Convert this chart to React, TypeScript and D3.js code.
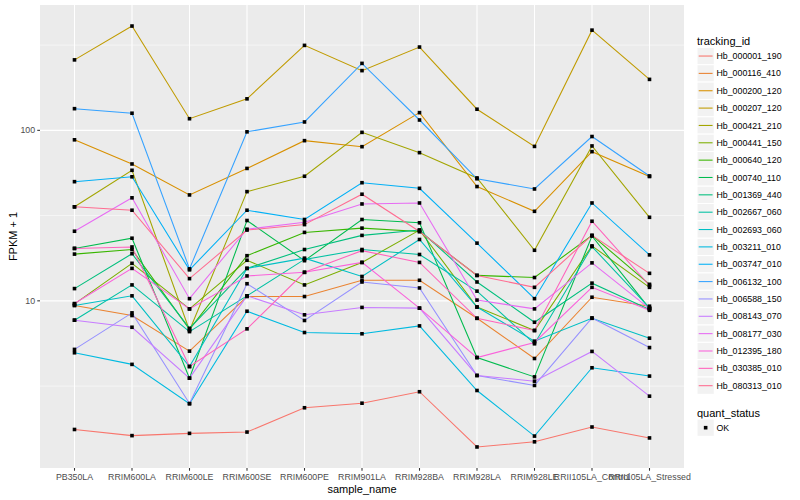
import * as d3 from "d3";

const samples = [
  "PB350LA",
  "RRIM600LA",
  "RRIM600LE",
  "RRIM600SE",
  "RRIM600PE",
  "RRIM901LA",
  "RRIM928BA",
  "RRIM928LA",
  "RRIM928LE",
  "RRII105LA_Control",
  "RRII105LA_Stressed",
];

const trackingIds = [
  "Hb_000001_190",
  "Hb_000116_410",
  "Hb_000200_120",
  "Hb_000207_120",
  "Hb_000421_210",
  "Hb_000441_150",
  "Hb_000640_120",
  "Hb_000740_110",
  "Hb_001369_440",
  "Hb_002667_060",
  "Hb_002693_060",
  "Hb_003211_010",
  "Hb_003747_010",
  "Hb_006132_100",
  "Hb_006588_150",
  "Hb_008143_070",
  "Hb_008177_030",
  "Hb_012395_180",
  "Hb_030385_010",
  "Hb_080313_010",
];

// FPKM + 1 per gene, in sample order
const hb000001 = [1.76, 1.62, 1.67, 1.7, 2.36, 2.51, 2.93, 1.39, 1.49, 1.82, 1.57];
const hb000116 = [9.4, 8.2, 5.07, 10.6, 10.6, 13.2, 13.2, 7.9, 4.59, 10.5, 9.3];
const hb000200 = [88, 63.5, 41.8, 59.8, 87, 80.2, 127, 46.8, 33.5, 75, 53.6];
const hb000207 = [259, 409, 117, 153, 315, 224, 308, 133, 80.5, 387, 199];
const hb000421 = [35.6, 58.3, 6.7, 43.7, 53.8, 97.3, 74, 52.6, 19.8, 81, 30.9];
const hb000441 = [9.6, 16.6, 8.97, 17.3, 12.4, 16.8, 26, 9.2, 6.7, 21, 12.0];
const hb000640 = [18.8, 20.0, 6.8, 18.4, 25.2, 26.7, 25.5, 14.1, 13.7, 24.2, 12.5];
const hb000740 = [20.3, 23.3, 3.52, 29.6, 17.2, 30, 28.7, 4.65, 3.58, 24, 9.0];
const hb001369 = [11.8, 18.9, 6.9, 15.5, 20, 24.2, 26, 12.9, 7.49, 12.7, 8.9];
const hb002667 = [7.7, 12.4, 6.6, 10.7, 17.5, 20, 18.7, 11.4, 5.6, 20.8, 9.1];
const hb002693 = [9.4, 10.7, 4.12, 15.5, 17.8, 13.9, 22.9, 9.2, 5.8, 7.9, 6.04];
const hb003211 = [4.96, 4.24, 2.49, 8.69, 6.52, 6.41, 7.13, 2.98, 1.61, 4.05, 3.62];
const hb003747 = [50, 53.4, 15.2, 34, 30, 49.3, 45.7, 21.8, 10.3, 37.5, 18.6];
const hb006132 = [134, 126, 15.4, 98, 112, 247, 115, 52, 45.3, 92, 54];
const hb006588 = [5.19, 8.5, 2.5, 12.6, 7.67, 12.9, 11.9, 3.65, 3.19, 7.94, 5.32];
const hb008143 = [7.7, 7.0, 3.52, 10.7, 8.28, 9.15, 9.06, 3.65, 3.38, 5.05, 2.76];
const hb008177 = [25.6, 40.2, 10.3, 26.3, 28.9, 37, 37.5, 10.1, 8.97, 16.7, 9.0];
const hb012395 = [9.64, 15.5, 8.97, 14, 14.7, 16.8, 9.06, 4.65, 5.7, 12.0, 8.8];
const hb030385 = [20.3, 20.7, 4.12, 6.85, 14.7, 19.7, 16.8, 7.9, 6.7, 29.3, 12.3];
const hb080313 = [35.6, 34, 13.5, 26, 28, 42.2, 25.5, 14.1, 12.0, 24.2, 14.5];

const seriesValues = [
  hb000001, hb000116, hb000200, hb000207, hb000421, hb000441, hb000640,
  hb000740, hb001369, hb002667, hb002693, hb003211, hb003747, hb006132,
  hb006588, hb008143, hb008177, hb012395, hb030385, hb080313,
];

const yTicks = [10, 100];

// ggplot2 default hue palette for 20 levels
const colors = [
  "#F8766D", "#EA8331", "#D89000", "#C09B00", "#A3A500", "#7CAE00", "#39B600",
  "#00BB4E", "#00BF7D", "#00C1A3", "#00BFC4", "#00BAE0", "#00B0F6", "#35A2FF",
  "#9590FF", "#C77CFF", "#E76BF3", "#FA62DB", "#FF62BC", "#FF6C91",
];

const font = "'Liberation Sans', Arial, Helvetica, sans-serif";

export default function App() {
  const width = 800;
  const height = 500;
  const panel = { left: 40, right: 684, top: 5, bottom: 468 };

  const x = d3
    .scalePoint<string>()
    .domain(samples)
    .range([panel.left, panel.right])
    .padding(0.6);

  const allValues = seriesValues.flat();
  const [lo, hi] = d3.extent(allValues.map((v) => Math.log10(v))) as [number, number];
  const pad = (hi - lo) * 0.05;
  const y = d3
    .scaleLog()
    .domain([Math.pow(10, lo - pad), Math.pow(10, hi + pad)])
    .range([panel.bottom, panel.top]);

  const minorTicks = [Math.sqrt(10), Math.sqrt(1000), Math.sqrt(100000)];

  const line = d3
    .line<number>()
    .x((_, i) => x(samples[i]) ?? 0)
    .y((v) => y(v));

  const keyTop = 47.4;
  const keyStep = 17.35;
  const keySize = 17.28;
  const legendX = 697;
  const ptSize = 3.6;

  return (
    <svg
      width={width}
      height={height}
      style={{ position: "fixed", left: 0, top: 0, background: "#fff" }}
      fontFamily={font}
    >
      <rect
        x={panel.left}
        y={panel.top}
        width={panel.right - panel.left}
        height={panel.bottom - panel.top}
        fill="#EBEBEB"
      />
      {minorTicks.map((t) =>
        y(t) > panel.top && y(t) < panel.bottom ? (
          <line
            key={`minor-${t}`}
            x1={panel.left}
            x2={panel.right}
            y1={y(t)}
            y2={y(t)}
            stroke="#fff"
            strokeWidth={0.53}
          />
        ) : null,
      )}
      {yTicks.map((t) => (
        <line
          key={`major-${t}`}
          x1={panel.left}
          x2={panel.right}
          y1={y(t)}
          y2={y(t)}
          stroke="#fff"
          strokeWidth={1.07}
        />
      ))}
      {samples.map((s) => (
        <line
          key={`vgrid-${s}`}
          x1={x(s)}
          x2={x(s)}
          y1={panel.top}
          y2={panel.bottom}
          stroke="#fff"
          strokeWidth={1.07}
        />
      ))}

      {seriesValues.map((vals, i) => (
        <path
          key={trackingIds[i]}
          d={line(vals) ?? ""}
          fill="none"
          stroke={colors[i]}
          strokeWidth={1.07}
        />
      ))}
      {seriesValues.map((vals, i) =>
        vals.map((v, j) => (
          <rect
            key={`${trackingIds[i]}-${j}`}
            x={(x(samples[j]) ?? 0) - ptSize / 2}
            y={y(v) - ptSize / 2}
            width={ptSize}
            height={ptSize}
            fill="#000"
          />
        )),
      )}

      {/* y axis */}
      {yTicks.map((t) => (
        <g key={`ytick-${t}`}>
          <line
            x1={panel.left - 2.74}
            x2={panel.left}
            y1={y(t)}
            y2={y(t)}
            stroke="#333"
            strokeWidth={1.07}
          />
          <text
            x={panel.left - 4.9}
            y={y(t) + 3.1}
            fontSize={8.8}
            fill="#4D4D4D"
            textAnchor="end"
          >
            {t}
          </text>
        </g>
      ))}
      {/* x axis */}
      {samples.map((s) => (
        <g key={`xtick-${s}`}>
          <line
            x1={x(s)}
            x2={x(s)}
            y1={panel.bottom}
            y2={panel.bottom + 2.74}
            stroke="#333"
            strokeWidth={1.07}
          />
          <text
            x={x(s)}
            y={panel.bottom + 11.8}
            fontSize={8.8}
            fill="#4D4D4D"
            textAnchor="middle"
          >
            {s}
          </text>
        </g>
      ))}
      <text
        x={(panel.left + panel.right) / 2}
        y={493}
        fontSize={11}
        textAnchor="middle"
        fill="#000"
      >
        sample_name
      </text>
      <text
        transform={`translate(16.5,${(panel.top + panel.bottom) / 2}) rotate(-90)`}
        fontSize={11}
        textAnchor="middle"
        fill="#000"
      >
        FPKM + 1
      </text>

      {/* legends */}
      <text x={legendX} y={44.5} fontSize={11} fill="#000">
        tracking_id
      </text>
      {trackingIds.map((id, i) => {
        const top = keyTop + i * keyStep;
        return (
          <g key={`leg-${id}`}>
            <rect
              x={legendX}
              y={top}
              width={keySize}
              height={keySize}
              fill="#F2F2F2"
              stroke="#fff"
              strokeWidth={1}
            />
            <line
              x1={legendX + 1.7}
              x2={legendX + keySize - 1.7}
              y1={top + keySize / 2}
              y2={top + keySize / 2}
              stroke={colors[i]}
              strokeWidth={1.07}
            />
            <text
              x={legendX + keySize + 2.2}
              y={top + keySize / 2 + 3.1}
              fontSize={8.8}
              fill="#000"
            >
              {id}
            </text>
          </g>
        );
      })}
      <text x={legendX} y={416.5} fontSize={11} fill="#000">
        quant_status
      </text>
      <rect
        x={legendX}
        y={427.7 - keySize / 2}
        width={keySize}
        height={keySize}
        fill="#F2F2F2"
        stroke="#fff"
        strokeWidth={1}
      />
      <rect
        x={legendX + keySize / 2 - ptSize / 2}
        y={427.7 - ptSize / 2}
        width={ptSize}
        height={ptSize}
        fill="#000"
      />
      <text x={legendX + keySize + 2.2} y={427.7 + 3.1} fontSize={8.8} fill="#000">
        OK
      </text>
    </svg>
  );
}
